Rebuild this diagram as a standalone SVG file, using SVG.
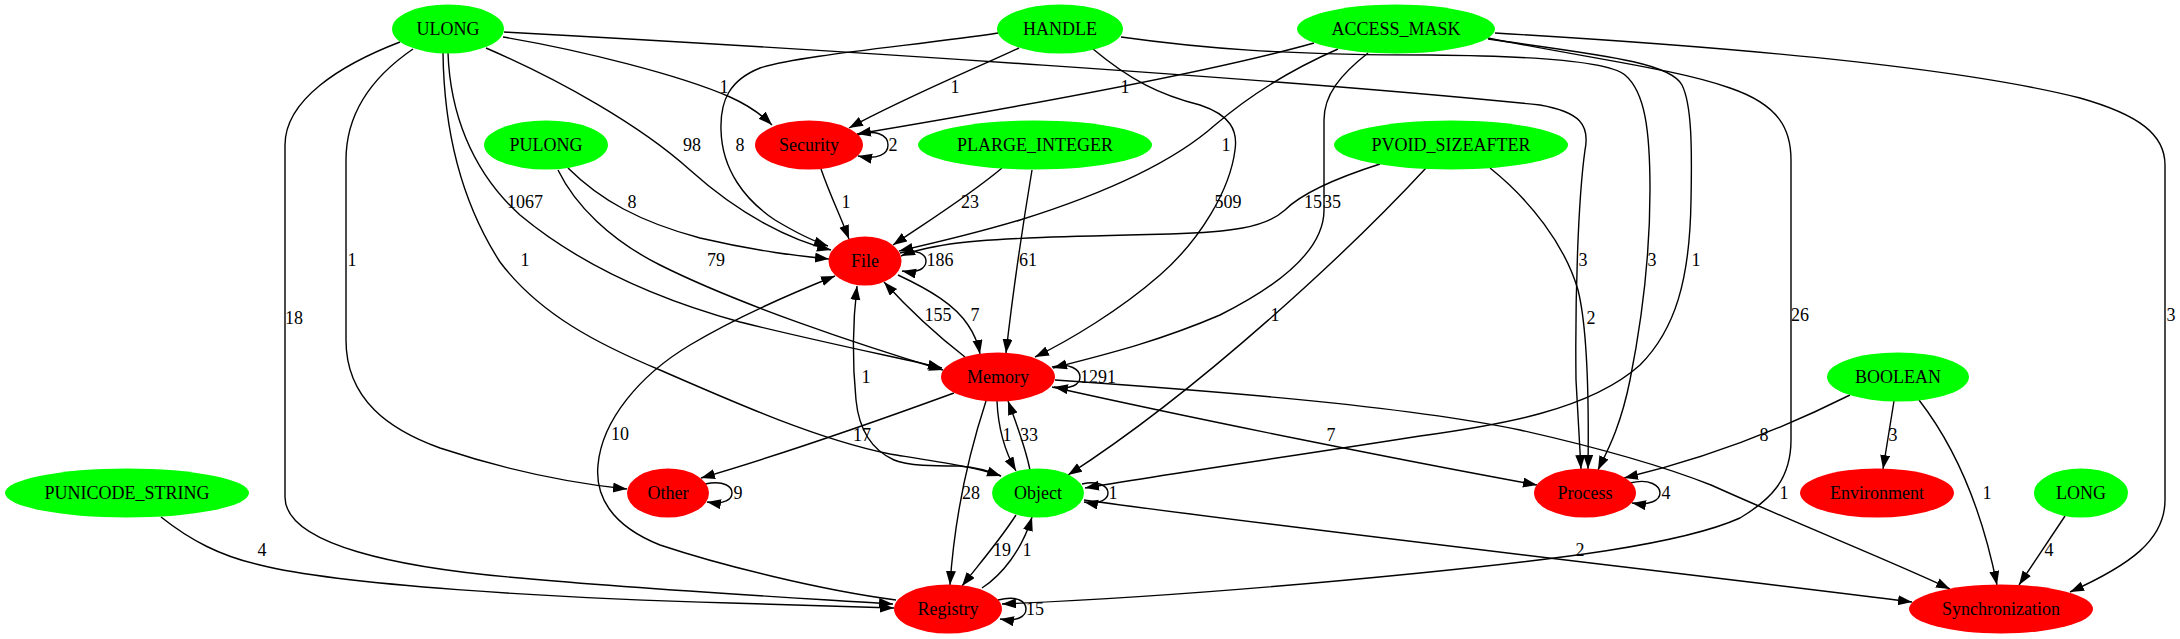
<svg xmlns="http://www.w3.org/2000/svg" width="2180" height="639" viewBox="0 0 2180 639">
<style>
text{font-family:"Liberation Serif","Times New Roman",serif;font-size:18px;text-anchor:middle;fill:#000}
.g{fill:#00ff00}
.r{fill:#ff0000}
#edges path{fill:none;stroke:#000;stroke-width:1.4;marker-end:url(#a)}
</style>
<defs>
<marker id="a" markerUnits="userSpaceOnUse" markerWidth="16" markerHeight="12" refX="14" refY="5" orient="auto"><path d="M0,0 L14,5 L0,10 z" fill="#000"/></marker>
</defs>
<rect width="2180" height="639" fill="#fff"/>
<g id="edges">
<path d="M400,42 C340,65 285,100 285,145 L285,497 C285,545 400,568 520,578 C650,590 800,598 893,604"/>
<path d="M413,49 C375,75 346,110 346,160 L346,340 C346,400 390,430 440,448 C500,468 560,482 627,489"/>
<path d="M443,53 C444,130 460,200 500,262 C540,315 600,345 660,370 C740,405 820,440 890,454 C940,462 975,467 1001,476"/>
<path d="M448,53 C450,110 470,170 520,215 C580,265 660,300 740,322 C820,342 900,358 942,368"/>
<path d="M486,48 C560,80 640,125 690,170 C740,215 790,240 831,250"/>
<path d="M503,37 C580,50 680,75 730,97 C750,106 762,115 772,125"/>
<path d="M504,32 C800,48 1300,80 1540,105 C1580,112 1590,125 1585,150 C1578,200 1575,300 1576,380 L1581,469"/>
<path d="M1121,37 C1200,48 1280,55 1430,55 C1540,56 1610,62 1625,75 C1645,92 1650,130 1650,190 C1650,260 1640,330 1630,380 C1620,430 1605,455 1598,470"/>
<path d="M1490,168 C1530,200 1565,245 1578,290 C1588,330 1589,400 1588,469"/>
<path d="M1488,39 C1600,55 1670,62 1682,85 C1692,105 1692,150 1691,200 C1690,280 1675,330 1640,365 C1590,410 1500,425 1420,436 C1300,455 1160,475 1085,488"/>
<path d="M1488,38 C1600,60 1680,70 1730,88 C1780,105 1791,130 1791,160 L1791,440 C1791,480 1770,500 1740,518 C1680,545 1550,560 1420,573 C1250,590 1100,600 1002,604"/>
<path d="M1495,33 C1700,45 1950,65 2080,98 C2140,115 2165,135 2165,165 L2165,500 C2165,540 2130,565 2070,592"/>
<path d="M1314,43 C1200,75 1000,110 857,134"/>
<path d="M1338,49 C1290,70 1250,95 1215,125 C1170,165 1100,195 1020,220 C970,235 930,244 899,251"/>
<path d="M1368,53 C1340,75 1324,95 1324,120 L1324,210 C1324,250 1280,285 1220,315 C1150,345 1090,358 1053,368"/>
<path d="M1380,164 C1330,180 1300,195 1285,210 C1265,228 1230,232 1170,234 C1080,236 990,238 950,244 C925,248 910,252 901,256"/>
<path d="M1426,168 C1350,250 1200,390 1068,475"/>
<path d="M998,33 C920,45 800,55 760,68 C730,80 720,100 721,130 C722,170 745,200 775,220 C795,232 810,240 828,246"/>
<path d="M1019,48 C960,75 900,100 849,128"/>
<path d="M1093,49 C1130,80 1160,95 1200,105 C1230,115 1238,130 1235,150 C1230,190 1200,240 1160,275 C1120,310 1070,340 1035,357"/>
<path d="M855,136 C875,128 888,135 888,145 C888,154 878,160 858,156"/>
<path d="M821,169 C830,195 840,215 849,239"/>
<path d="M568,168 C600,200 640,222 700,238 C760,252 800,256 829,259"/>
<path d="M558,170 C575,205 610,240 660,265 C740,305 860,345 943,370"/>
<path d="M1002,168 C970,195 930,220 893,245"/>
<path d="M1032,170 C1022,230 1012,300 1006,353"/>
<path d="M900,253 C918,248 926,255 926,261 C926,268 918,274 902,271"/>
<path d="M898,275 C930,290 955,305 968,325 C975,335 978,343 980,354"/>
<path d="M965,357 C930,330 905,305 884,282"/>
<path d="M1052,367 C1070,362 1080,370 1080,377 C1080,384 1072,390 1054,387"/>
<path d="M997,401 C998,425 1004,450 1016,471"/>
<path d="M1030,470 C1025,445 1015,420 1008,401"/>
<path d="M954,393 C880,420 780,455 701,478"/>
<path d="M986,401 C970,450 955,510 950,585"/>
<path d="M1016,515 C1000,540 980,563 962,586"/>
<path d="M982,588 C1002,575 1022,550 1032,517"/>
<path d="M1001,476 C985,469 972,467 959,466 C935,466 908,466 894,460 C872,450 859,430 856,400 C852,360 853,320 857,286"/>
<path d="M998,600 C1018,595 1026,602 1026,609 C1026,616 1018,622 1000,619"/>
<path d="M705,484 C725,480 732,487 732,493 C732,499 725,505 707,502"/>
<path d="M1082,484 C1100,480 1108,487 1108,493 C1108,499 1100,505 1084,502"/>
<path d="M1630,483 C1650,478 1660,486 1660,493 C1660,500 1650,506 1632,503"/>
<path d="M1850,395 C1780,430 1700,460 1624,478"/>
<path d="M1894,401 L1883,469"/>
<path d="M1919,400 C1950,440 1980,500 1997,585"/>
<path d="M2065,516 L2019,585"/>
<path d="M161,517 C190,540 220,556 260,565 C340,585 550,598 730,603 C800,605 860,607 894,608"/>
<path d="M896,600 C820,590 720,565 660,545 C610,525 595,495 598,465 C602,420 640,375 690,345 C740,315 800,290 835,276"/>
<path d="M1055,380 C1200,390 1400,405 1520,430 C1600,448 1660,465 1711,485 C1800,525 1900,565 1950,589"/>
<path d="M1052,387 C1200,420 1400,460 1537,485"/>
<path d="M1084,500 C1300,530 1700,575 1912,602"/>
</g>
<g id="edge-labels">
<text x="294" y="324">18</text>
<text x="352" y="266">1</text>
<text x="525" y="266">1</text>
<text x="525" y="208">1067</text>
<text x="692" y="151">98</text>
<text x="724" y="93">1</text>
<text x="1583" y="266">3</text>
<text x="1652" y="266">3</text>
<text x="1591" y="324">2</text>
<text x="1696" y="266">1</text>
<text x="1800" y="321">26</text>
<text x="2171" y="321">3</text>
<text x="1125" y="93">1</text>
<text x="1226" y="151">1</text>
<text x="1332" y="208">35</text>
<text x="1313" y="208">15</text>
<text x="1275" y="321">1</text>
<text x="740" y="151">8</text>
<text x="955" y="93">1</text>
<text x="1228" y="208">509</text>
<text x="893" y="151">2</text>
<text x="846" y="208">1</text>
<text x="632" y="208">8</text>
<text x="716" y="266">79</text>
<text x="970" y="208">23</text>
<text x="1028" y="266">61</text>
<text x="940" y="266">186</text>
<text x="975" y="321">7</text>
<text x="938" y="321">155</text>
<text x="1098" y="383">1291</text>
<text x="866" y="383">1</text>
<text x="1007" y="441">1</text>
<text x="1029" y="441">33</text>
<text x="862" y="441">17</text>
<text x="971" y="499">28</text>
<text x="1002" y="556">19</text>
<text x="1027" y="556">1</text>
<text x="1035" y="615">15</text>
<text x="738" y="499">9</text>
<text x="1113" y="499">1</text>
<text x="1666" y="499">4</text>
<text x="1764" y="441">8</text>
<text x="1893" y="441">3</text>
<text x="1987" y="499">1</text>
<text x="2049" y="556">4</text>
<text x="262" y="556">4</text>
<text x="620" y="440">10</text>
<text x="1784" y="499">1</text>
<text x="1331" y="441">7</text>
<text x="1580" y="556">2</text>
</g>
<g id="ULONG"><ellipse class="g" cx="448" cy="29" rx="56" ry="24.5"/><text x="448" y="35">ULONG</text></g>
<g id="HANDLE"><ellipse class="g" cx="1060" cy="29" rx="63" ry="24.5"/><text x="1060" y="35">HANDLE</text></g>
<g id="ACCESS_MASK"><ellipse class="g" cx="1396" cy="29" rx="99" ry="24.5"/><text x="1396" y="35">ACCESS_MASK</text></g>
<g id="PULONG"><ellipse class="g" cx="546" cy="145" rx="62" ry="24.5"/><text x="546" y="151">PULONG</text></g>
<g id="Security"><ellipse class="r" cx="809" cy="145" rx="54" ry="24.5"/><text x="809" y="151">Security</text></g>
<g id="PLARGE_INTEGER"><ellipse class="g" cx="1035" cy="145" rx="117" ry="24.5"/><text x="1035" y="151">PLARGE_INTEGER</text></g>
<g id="PVOID_SIZEAFTER"><ellipse class="g" cx="1451" cy="145" rx="117" ry="24.5"/><text x="1451" y="151">PVOID_SIZEAFTER</text></g>
<g id="File"><ellipse class="r" cx="865" cy="261" rx="36.5" ry="24.5"/><text x="865" y="267">File</text></g>
<g id="Memory"><ellipse class="r" cx="998" cy="377" rx="57" ry="24.5"/><text x="998" y="383">Memory</text></g>
<g id="BOOLEAN"><ellipse class="g" cx="1898" cy="377" rx="71" ry="24.5"/><text x="1898" y="383">BOOLEAN</text></g>
<g id="PUNICODE_STRING"><ellipse class="g" cx="127" cy="493" rx="122" ry="24.5"/><text x="127" y="499">PUNICODE_STRING</text></g>
<g id="Other"><ellipse class="r" cx="668" cy="493" rx="41" ry="24.5"/><text x="668" y="499">Other</text></g>
<g id="Object"><ellipse class="g" cx="1038" cy="493" rx="46" ry="24.5"/><text x="1038" y="499">Object</text></g>
<g id="Process"><ellipse class="r" cx="1585" cy="493" rx="51" ry="24.5"/><text x="1585" y="499">Process</text></g>
<g id="Environment"><ellipse class="r" cx="1877" cy="493" rx="77" ry="24.5"/><text x="1877" y="499">Environment</text></g>
<g id="LONG"><ellipse class="g" cx="2081" cy="493" rx="47" ry="24.5"/><text x="2081" y="499">LONG</text></g>
<g id="Registry"><ellipse class="r" cx="948" cy="609" rx="54" ry="24.5"/><text x="948" y="615">Registry</text></g>
<g id="Synchronization"><ellipse class="r" cx="2001" cy="609" rx="92" ry="24.5"/><text x="2001" y="615">Synchronization</text></g>
</svg>
